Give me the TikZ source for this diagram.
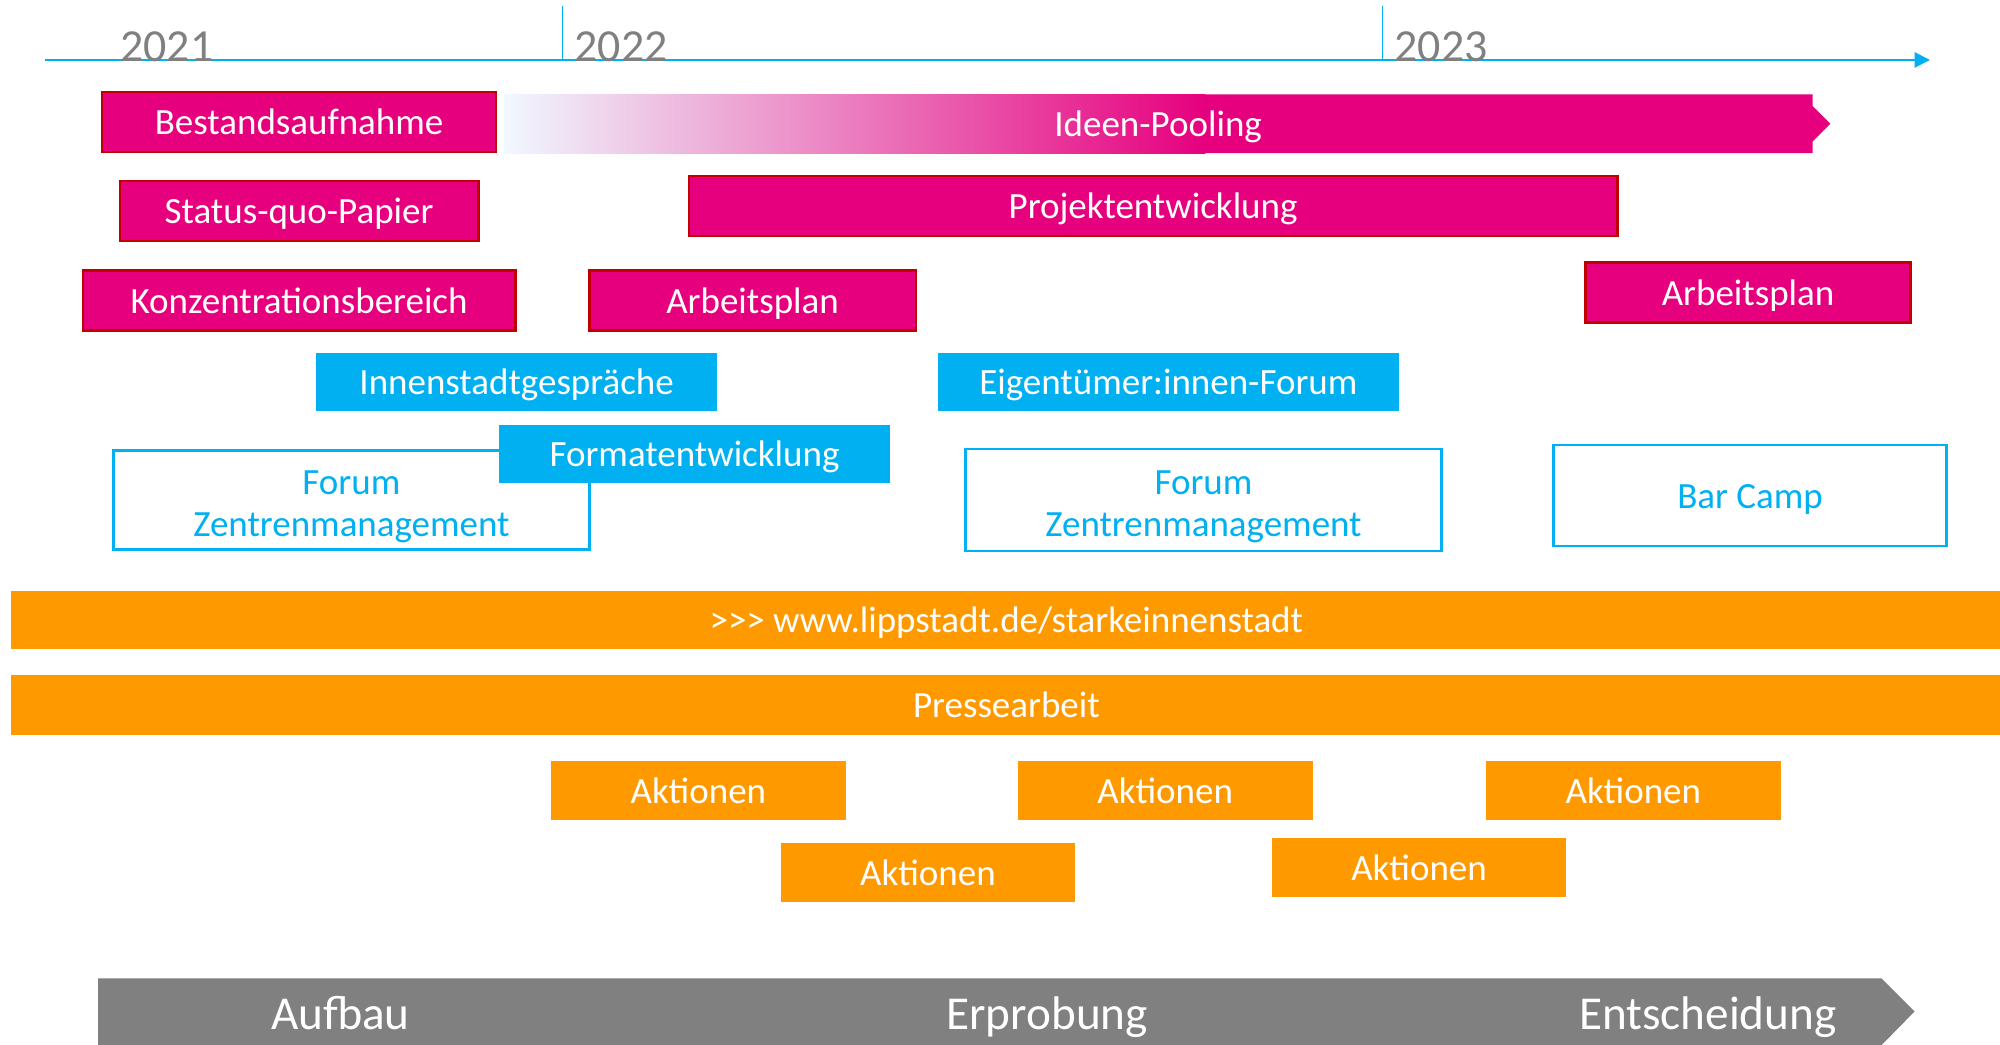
\documentclass[tikz,border=0pt]{standalone}
\usepackage{fontspec}
\setmainfont{Carlito}
\usetikzlibrary{arrows.meta}
\definecolor{mag}{HTML}{E6007E}
\definecolor{magline}{HTML}{C00000}
\definecolor{cy}{HTML}{00B0F0}
\definecolor{ora}{HTML}{FF9900}
\definecolor{gr}{HTML}{808080}
\definecolor{pale}{HTML}{F0F8FF}
\newcommand\rbox[7]{\node[#2, minimum width={(#5-#3)*0.5pt}, minimum height={(#6-#4)*0.5pt}] (#1) at ({(#3+#5)/2},{(#4+#6)/2}) {#7};}
\begin{document}
\begin{tikzpicture}[x=0.5pt,y=-0.5pt,
  basebox/.style={inner sep=0pt, outer sep=0pt, text height=10pt, text depth=0pt, font=\fontsize{14.5}{16.5}\selectfont},
  magbox/.style={basebox, fill=mag, draw=magline, line width=1pt, text=white},
  cybox/.style={basebox, fill=cy, text=white},
  outbox/.style={basebox, fill=white, draw=cy, line width=1pt, text=cy},
  forumtxt/.style={inner sep=0pt, text=cy, align=center, font=\fontsize{14.5}{16.5}\selectfont, yshift=-2.5pt},
  orbox/.style={basebox, fill=ora, text=white},
  yearlbl/.style={inner sep=0pt, anchor=base west, text=gr, font=\fontsize{18}{20}\selectfont},
  phase/.style={inner sep=0pt, text=white, text height=14pt, text depth=0pt, font=\fontsize{18.5}{22}\selectfont},
  axis/.style={draw=cy, line width=0.8pt}]
\useasboundingbox (0,0) rectangle (1568,819.2);
% axis
\coordinate (axS) at (35,47);
\coordinate (axE) at (1513,47);
\coordinate (t1a) at (441,5); \coordinate (t1b) at (441,47);
\coordinate (t2a) at (1084,5); \coordinate (t2b) at (1084,47);
\draw[axis, -{Triangle[length=6pt,width=6pt]}] (axS) -- (axE);
\draw[axis, line width=0.6pt] (t1a) -- (t1b);
\draw[axis, line width=0.6pt] (t2a) -- (t2b);
\node[yearlbl] (y21) at (94,48) {2021};
\node[yearlbl] (y22) at (450,48) {2022};
\node[yearlbl] (y23) at (1093,48) {2023};
% Ideen-Pooling
\shade[left color=pale, right color=mag] (395,74) rectangle (945,120);
\fill[mag] (944,74) -- (1421,74) -- (1421,83) -- (1435,97) -- (1421,111) -- (1421,120) -- (944,120) -- cycle;
\node[basebox, text=white] (ideen) at (908,97) {Ideen-Pooling};
% magenta boxes
\rbox{best}{magbox}{80}{72}{389}{119}{Bestandsaufnahme}
\rbox{status}{magbox}{94}{142}{375}{189}{Status-quo-Papier}
\rbox{projekt}{magbox}{540}{138}{1268}{185}{Projektentwicklung}
\rbox{konz}{magbox}{65}{212}{404}{259}{Konzentrationsbereich}
\rbox{arb1}{magbox}{462}{212}{718}{259}{Arbeitsplan}
\rbox{arb2}{magbox}{1243}{206}{1498}{253}{Arbeitsplan}
% cyan
\rbox{innen}{cybox}{248}{277}{562}{322}{Innenstadtgespräche}
\rbox{eigen}{cybox}{735}{277}{1097}{322}{Eigentümer:innen-Forum}
\rbox{forum1}{outbox}{89}{353}{462}{431}{}
\node[forumtxt] (forum1t) at (forum1.center) {Forum\\Zentrenmanagement};
\rbox{format}{cybox}{391}{333}{698}{379}{Formatentwicklung}
\rbox{forum2}{outbox}{757}{352}{1130}{432}{}
\node[forumtxt] (forum2t) at (forum2.center) {Forum\\Zentrenmanagement};
\rbox{bar}{outbox}{1218}{349}{1526}{428}{Bar Camp}
% orange
\rbox{url}{orbox}{9}{463}{1580}{509}{}
\node[basebox, text=white] (urltxt) at (789,486) {>\kern0pt>\kern0pt> www.lippstadt.de/starkeinnenstadt};
\rbox{presse}{orbox}{9}{529}{1580}{576}{}
\node[basebox, text=white] (pressetxt) at (789,552.5) {Pressearbeit};
\rbox{ak1}{orbox}{432}{597}{663}{643}{Aktionen}
\rbox{ak2}{orbox}{798}{597}{1029}{643}{Aktionen}
\rbox{ak3}{orbox}{1165}{597}{1396}{643}{Aktionen}
\rbox{ak4}{orbox}{612}{661}{843}{707}{Aktionen}
\rbox{ak5}{orbox}{997}{657}{1228}{703}{Aktionen}
% phases
\fill[gr] (77,767) -- (1475,767) -- (1501,793) -- (1475,819.5) -- (77,819.5) -- cycle;
\node[phase] (aufbau) at (267,793) {Aufbau};
\node[phase] (erprob) at (821,793) {Erprobung};
\node[phase] (entsch) at (1339,793) {Entscheidung};
\end{tikzpicture}
\end{document}
